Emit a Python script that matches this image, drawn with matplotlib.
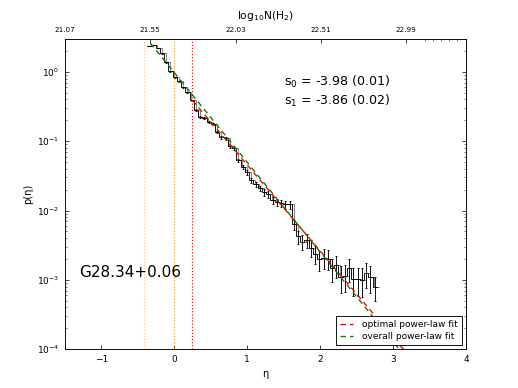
import numpy as np
import matplotlib.pyplot as plt

# histogram of eta (bin edges and values)
edges = np.linspace(-0.373, 2.775, 55)
p_eta = [2.35, 2.43, 2.20, 1.86, 1.38, 1.02, 0.838, 0.734, 0.601, 0.509,
         0.390, 0.280, 0.221, 0.214, 0.188, 0.175, 0.135, 0.114, 0.110, 0.0844,
         0.0789, 0.0530, 0.0420, 0.0356, 0.0272, 0.0238, 0.0209, 0.0183, 0.0171, 0.0140,
         0.0131, 0.0127, 0.0123, 0.0123, 0.00629, 0.00423, 0.00357, 0.00370, 0.00293, 0.00240,
         0.00197, 0.00210, 0.00203, 0.00146, 0.00166, 0.00111, 0.00115, 0.00146, 0.00104, 0.00104,
         0.00101, 0.00127, 0.00111, 0.00080]
p_err = [0.022, 0.022, 0.021, 0.019, 0.017, 0.014, 0.013, 0.012, 0.011, 0.010,
         0.0088, 0.0075, 0.0066, 0.0065, 0.0061, 0.0059, 0.0052, 0.0048, 0.0047, 0.0041,
         0.0040, 0.0033, 0.0029, 0.0027, 0.0023, 0.0022, 0.0020, 0.0019, 0.0018, 0.0017,
         0.0016, 0.0016, 0.0016, 0.0016, 0.0011, 0.00092, 0.00085, 0.00086, 0.00077, 0.00069,
         0.00063, 0.00065, 0.00064, 0.00054, 0.00058, 0.00047, 0.00048, 0.00054, 0.00046, 0.00046,
         0.00045, 0.00050, 0.00047, 0.00030]

# power-law fits: slopes s+1 in eta space, intercept log10 p at eta=0
s0 = -3.98
s1 = -3.86
fit_opt_start = 0.25
fit_all_start = -0.41
fit_opt_icpt = -0.10
fit_all_icpt = -0.01

# vertical markers
eta_lines = [-0.41, 0.0, 0.25]
line_colors = ['#ffc48a', '#ff9900', '#ff0000']

# top axis (log10 N(H2))
top_labels = ['21.07', '21.55', '22.03', '22.51', '22.99']
top_pos = np.linspace(-1.5, 3.18, 5)
top_minor = [3.43, 3.55, 3.66, 3.77, 3.88]

plt.rcParams['xtick.direction'] = 'in'
plt.rcParams['ytick.direction'] = 'in'
plt.rcParams['ytick.right'] = True

fig = plt.figure(figsize=(518/64.75, 388/64.75), dpi=64.75)
ax = fig.add_axes([0.125, 0.1, 0.775, 0.8])

centers = 0.5*(edges[1:] + edges[:-1])
vals = np.append(p_eta, p_eta[-1])
ax.step(edges + 0.025, vals, where='post', color='0.55', lw=1.2)
ax.step(edges, vals, where='post', color='k', lw=1.0)
ax.errorbar(centers, p_eta, yerr=p_err, fmt='none', ecolor='k', elinewidth=1.0, capsize=1.5)

for x, c in zip(eta_lines, line_colors):
    ax.axvline(x, color=c, ls=':', lw=1.3)

eta_opt = np.linspace(fit_opt_start, 3.6, 50)
eta_all = np.linspace(fit_all_start, 3.6, 50)
ax.plot(eta_opt, 10**(fit_opt_icpt + (s1+1)*eta_opt/np.log(10)), color='r', ls='--', lw=1.5,
        dashes=(4, 3), label='optimal power-law fit')
ax.plot(eta_all, 10**(fit_all_icpt + (s0+1)*eta_all/np.log(10)), color='g', ls='--', lw=1.5,
        dashes=(4, 3), label='overall power-law fit')

ax.set_yscale('log')
ax.set_xlim(-1.5, 4)
ax.set_ylim(1e-4, 3)
ax.set_xticks([-1, 0, 1, 2, 3, 4])
ax.tick_params(labelsize=10, length=4, pad=6)
ax.tick_params(which='minor', length=2)
ax.set_xlabel('η', fontsize=11, labelpad=6)
ax.set_ylabel('p(η)', fontsize=11)

ax.text(0.545, 0.83, '$\\mathregular{s_0}$ = -3.98 (0.01)\n$\\mathregular{s_1}$ = -3.86 (0.02)',
        transform=ax.transAxes, fontsize=14, va='center', ha='left')
ax.text(0.037, 0.248, 'G28.34+0.06', transform=ax.transAxes, fontsize=17, va='center', ha='left')

leg = ax.legend(loc='lower right', fontsize=10, handlelength=1.5, fancybox=False,
                framealpha=1, labelspacing=0.35, borderpad=0.4, handletextpad=1.0)
leg.get_frame().set_edgecolor('k')

ax2 = ax.twiny()
ax2.set_xlim(ax.get_xlim())
ax2.set_xticks(top_pos)
ax2.set_xticklabels(top_labels)
ax2.set_xticks(top_minor, minor=True)
ax2.tick_params(labelsize=8, length=4, pad=6)
ax2.tick_params(which='minor', length=2)
ax2.set_xlabel('$\\mathregular{log_{10}N(H_2)}$', fontsize=12, labelpad=9)

plt.savefig('out.png', dpi=64.75)
